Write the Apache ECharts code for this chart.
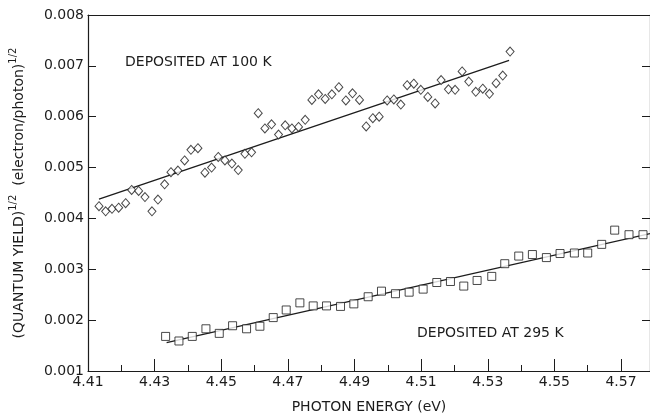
<!DOCTYPE html>
<html>
<head>
<meta charset="utf-8">
<script src="https://cdn.jsdelivr.net/npm/echarts@6/dist/echarts.min.js"></script>
<style>
  html, body { margin: 0; padding: 0; background: #fff; }
  #chart { width: 650px; height: 419px; }
</style>
</head>
<body>
<div id="chart"></div>
<script>
// film deposited at 100 K (diamonds)
const energy100 = [
  4.4133, 4.4153, 4.4172, 4.4192, 4.4213, 4.4231, 4.4252, 4.4271, 4.4292, 4.4310,
  4.4330, 4.4349, 4.4370, 4.4390, 4.4409, 4.4430, 4.4451, 4.4471, 4.4491, 4.4511,
  4.4532, 4.4551, 4.4571, 4.4591, 4.4611, 4.4631, 4.4651, 4.4672, 4.4692, 4.4712,
  4.4732, 4.4752, 4.4772, 4.4792, 4.4812, 4.4832, 4.4853, 4.4874, 4.4894, 4.4915,
  4.4935, 4.4955, 4.4974, 4.4998, 4.5018, 4.5039, 4.5058, 4.5078, 4.5099, 4.5120,
  4.5142, 4.5160, 4.5182, 4.5202, 4.5223, 4.5243, 4.5264, 4.5285, 4.5305, 4.5325,
  4.5345, 4.5367
]
const yield100 = [
  0.00424, 0.00414, 0.00419, 0.00421, 0.00430, 0.00456, 0.00454, 0.00442, 0.00414, 0.00437,
  0.00467, 0.00491, 0.00494, 0.00514, 0.00535, 0.00538, 0.00490, 0.00500, 0.00521, 0.00514,
  0.00508, 0.00495, 0.00527, 0.00530, 0.00607, 0.00577, 0.00585, 0.00565, 0.00583, 0.00577,
  0.00580, 0.00594, 0.00633, 0.00644, 0.00635, 0.00644, 0.00658, 0.00632, 0.00646, 0.00633,
  0.00581, 0.00597, 0.00600, 0.00632, 0.00634, 0.00624, 0.00662, 0.00665, 0.00653, 0.00639,
  0.00626, 0.00672, 0.00654, 0.00653, 0.00689, 0.00669, 0.00649, 0.00655, 0.00645, 0.00666,
  0.00681, 0.00728
]
const fit100X = [4.4133, 4.5364]
const fit100Y = [0.00438, 0.00711]

// film deposited at 295 K (squares)
const energy295 = [
  4.4333, 4.4373, 4.4413, 4.4454, 4.4494, 4.4534, 4.4576, 4.4616, 4.4656, 4.4695,
  4.4736, 4.4776, 4.4816, 4.4858, 4.4898, 4.4941, 4.4981, 4.5023, 4.5064, 4.5106,
  4.5147, 4.5188, 4.5228, 4.5268, 4.5312, 4.5351, 4.5393, 4.5434, 4.5476, 4.5517,
  4.5560, 4.5600, 4.5642, 4.5681, 4.5724, 4.5766
]
const yield295 = [
  0.00168, 0.00159, 0.00168, 0.00183, 0.00174, 0.00189, 0.00183, 0.00188, 0.00205, 0.00220,
  0.00234, 0.00228, 0.00228, 0.00227, 0.00232, 0.00246, 0.00257, 0.00252, 0.00255, 0.00261,
  0.00274, 0.00276, 0.00267, 0.00278, 0.00286, 0.00311, 0.00326, 0.00329, 0.00323, 0.00331,
  0.00332, 0.00332, 0.00349, 0.00377, 0.00368, 0.00368
]
const fit295X = [4.4336, 4.5787]
const fit295Y = [0.00156, 0.00370]

const xMin = 4.41
const xMax = 4.5787
const yMin = 0.001
const yMax = 0.008

const ink = '#1c1c1c'
const font = 'DejaVu Sans'

const zip = (xs, ys) => xs.map((x, i) => [x, ys[i]])

const chart = echarts.init(document.getElementById('chart'))

chart.setOption({
  animation: false,
  grid: { left: 87, right: 0, top: 15, bottom: 38 },
  xAxis: [
    {
      type: 'value',
      min: xMin,
      max: xMax,
      interval: 0.02,
      name: 'PHOTON ENERGY (eV)',
      nameLocation: 'middle',
      nameGap: 29,
      nameTextStyle: { color: ink, fontFamily: font, fontSize: 14 },
      axisLine: { show: true, lineStyle: { color: ink, width: 1.2 } },
      axisTick: { show: true, inside: true, length: 12, lineStyle: { color: ink } },
      minorTick: { show: true, splitNumber: 2, length: 6, lineStyle: { color: ink } },
      splitLine: { show: false },
      axisLabel: {
        color: ink, fontFamily: font, fontSize: 14, margin: 4,
        showMaxLabel: false,
        formatter: (v) => v.toFixed(2)
      }
    },
    {
      type: 'value',
      position: 'top',
      min: xMin,
      max: xMax,
      axisLine: { show: true, lineStyle: { color: ink, width: 1.2 } },
      axisTick: { show: false },
      axisLabel: { show: false },
      splitLine: { show: false }
    }
  ],
  yAxis: [
    {
      type: 'value',
      min: yMin,
      max: yMax,
      interval: 0.001,
      name: '{t|(QUANTUM YIELD)}{s|1/2}{t|  (electron/photon)}{s|1/2}',
      nameLocation: 'middle',
      nameGap: 62,
      nameRotate: 90,
      nameTextStyle: {
        rich: {
          t: { color: ink, fontFamily: font, fontSize: 14, verticalAlign: 'bottom' },
          s: { color: ink, fontFamily: font, fontSize: 10, verticalAlign: 'top', padding: [0, 0, 8, 0] }
        }
      },
      axisLine: { show: true, lineStyle: { color: ink, width: 1.2 } },
      axisTick: { show: true, inside: true, length: 8, lineStyle: { color: ink } },
      splitLine: { show: false },
      axisLabel: {
        color: ink, fontFamily: font, fontSize: 14, margin: 4,
        formatter: (v) => v.toFixed(3)
      }
    },
    {
      type: 'value',
      position: 'right',
      min: yMin,
      max: yMax,
      interval: 0.001,
      axisLine: { show: true, lineStyle: { color: ink, width: 1.2 } },
      axisTick: { show: true, inside: true, length: 8, lineStyle: { color: ink } },
      axisLabel: { show: false },
      splitLine: { show: false }
    }
  ],
  graphic: [
    {
      type: 'text', left: 125, top: 55,
      style: { text: 'DEPOSITED AT 100 K', fill: ink, font: '14px "DejaVu Sans"' }
    },
    {
      type: 'text', left: 417, top: 326,
      style: { text: 'DEPOSITED AT 295 K', fill: ink, font: '14px "DejaVu Sans"' }
    }
  ],
  series: [
    {
      name: '100 K',
      type: 'scatter',
      symbol: 'diamond',
      symbolSize: [8, 9],
      itemStyle: { color: '#fff', borderColor: ink, borderWidth: 1 },
      data: zip(energy100, yield100),
      z: 3
    },
    {
      name: '100 K fit',
      type: 'line',
      showSymbol: false,
      lineStyle: { color: ink, width: 1.3 },
      data: zip(fit100X, fit100Y),
      z: 2
    },
    {
      name: '295 K',
      type: 'scatter',
      symbol: 'rect',
      symbolSize: [8, 8],
      itemStyle: { color: '#fff', borderColor: ink, borderWidth: 1 },
      data: zip(energy295, yield295),
      z: 3
    },
    {
      name: '295 K fit',
      type: 'line',
      showSymbol: false,
      lineStyle: { color: ink, width: 1.3 },
      data: zip(fit295X, fit295Y),
      z: 2
    }
  ]
})
</script>
</body>
</html>
